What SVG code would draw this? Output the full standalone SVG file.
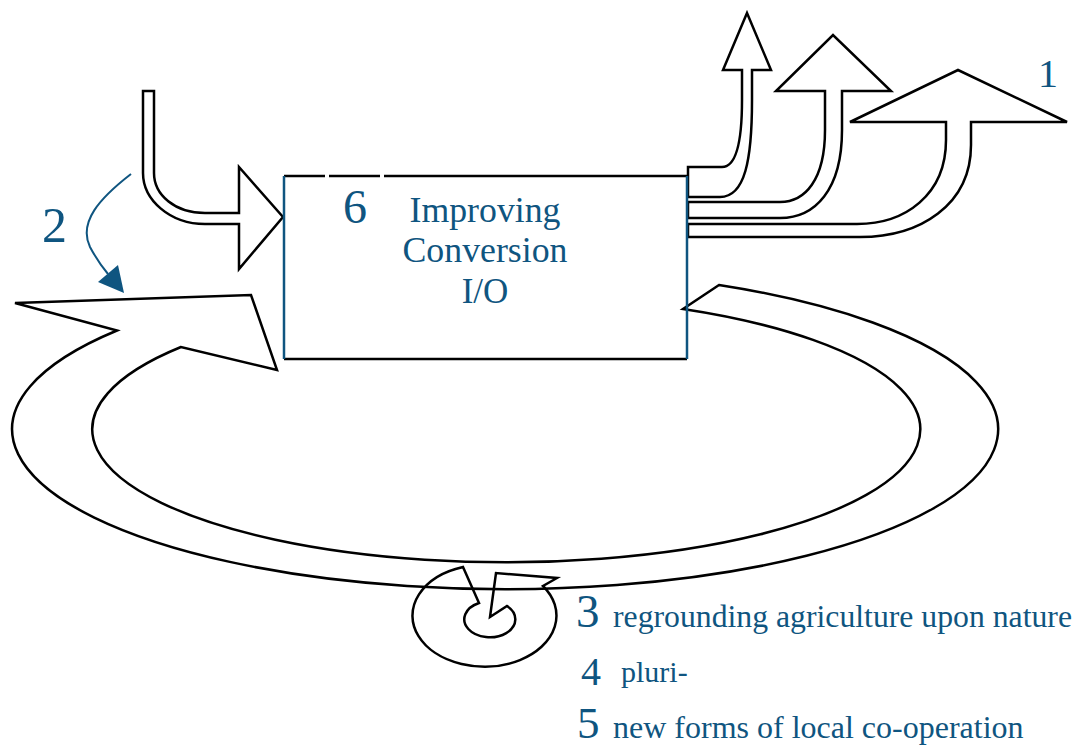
<svg xmlns="http://www.w3.org/2000/svg" width="1083" height="747" viewBox="0 0 1083 747">
<style>
.ln{fill:none;stroke:#000;stroke-width:2.5;stroke-linejoin:miter}
.bl{fill:#0f5580;font-family:"Liberation Serif","Times New Roman",serif}
.edge{stroke:#0f5580;stroke-width:2.5;fill:none}
</style>
<rect width="1083" height="747" fill="#fff"/>
<g id="connectors">
<path id="loop" class="ln" d="M719,285 A493 160 0 1 1 117,330.5 L15,303 L251,295 L277,370 L181,347 A414 133 0 1 0 683,309 Z"/>
<path id="input-arrow" class="ln" d="M143,91 L154,91 L154,173 C154,195 175,213 205,213 L239,213 L239,167 L283,217 L239,269 L239,224 L205,224 C170,224 143,200 143,173 Z"/>
<path id="out-a" class="ln" d="M688,167 L722,167 C737,167 742,140 742,100 L742,70 L723,70 L747,13 L771,70 L752,70 L752,100 C752,160 745,197 720,197 L688,197 Z"/>
<path id="out-b" class="ln" d="M688,202 L780,202 C805,202 825,180 825,130 L825,91 L776,91 L833,35 L891,91 L842,91 L842,130 C842,190 815,218 780,218 L688,218 Z"/>
<path id="out-c" class="ln" d="M688,224 L857,224 C905,224 946,195 946,140 L946,122 L850,122 L958,70 L1067,122 L971,122 L971,145 C971,205 920,237 860,237 L688,237 Z"/>
<path id="spiral" class="ln" d="M463,567 L479,603 A25.5 18 0 1 0 507,606 L490,617 L496,573 L557,578 L543,586 A72 51 0 1 1 463,567 Z"/>
<g id="arrow-2">
<path d="M131,174 C100,198 78,222 90,247 Q98,262 108,274" fill="none" stroke="#0f5580" stroke-width="2"/>
<polygon points="98,282 118,265 124,293" fill="#0f5580"/>
</g>
</g>
<g id="node-6">
<path class="ln" d="M284,176 H325 M329,176 H380 M384,176 H687 M284,359 H687"/>
<line class="edge" x1="284" y1="176" x2="284" y2="359"/>
<line class="edge" x1="687" y1="176" x2="687" y2="359"/>
<text class="bl" x="343" y="223" font-size="48">6</text>
<text class="bl" x="485" y="222" font-size="35" text-anchor="middle" textLength="151" lengthAdjust="spacingAndGlyphs">Improving</text>
<text class="bl" x="485" y="262" font-size="35" text-anchor="middle" textLength="165" lengthAdjust="spacingAndGlyphs">Conversion</text>
<text class="bl" x="485" y="303" font-size="35" text-anchor="middle">I/O</text>
</g>
<g id="label-1"><text class="bl" x="1038" y="87" font-size="40">1</text></g>
<g id="label-2"><text class="bl" x="42" y="242" font-size="50">2</text></g>
<g id="label-3"><text class="bl" x="576" y="627" font-size="47">3</text><text class="bl" x="613" y="627" font-size="32" textLength="459" lengthAdjust="spacingAndGlyphs">regrounding agriculture upon nature</text></g>
<g id="label-4"><text class="bl" x="581" y="685" font-size="40">4</text><text class="bl" x="621" y="682" font-size="30">pluri-</text></g>
<g id="label-5"><text class="bl" x="577" y="738" font-size="45">5</text><text class="bl" x="613" y="738" font-size="32">new forms of local co-operation</text></g>
</svg>
